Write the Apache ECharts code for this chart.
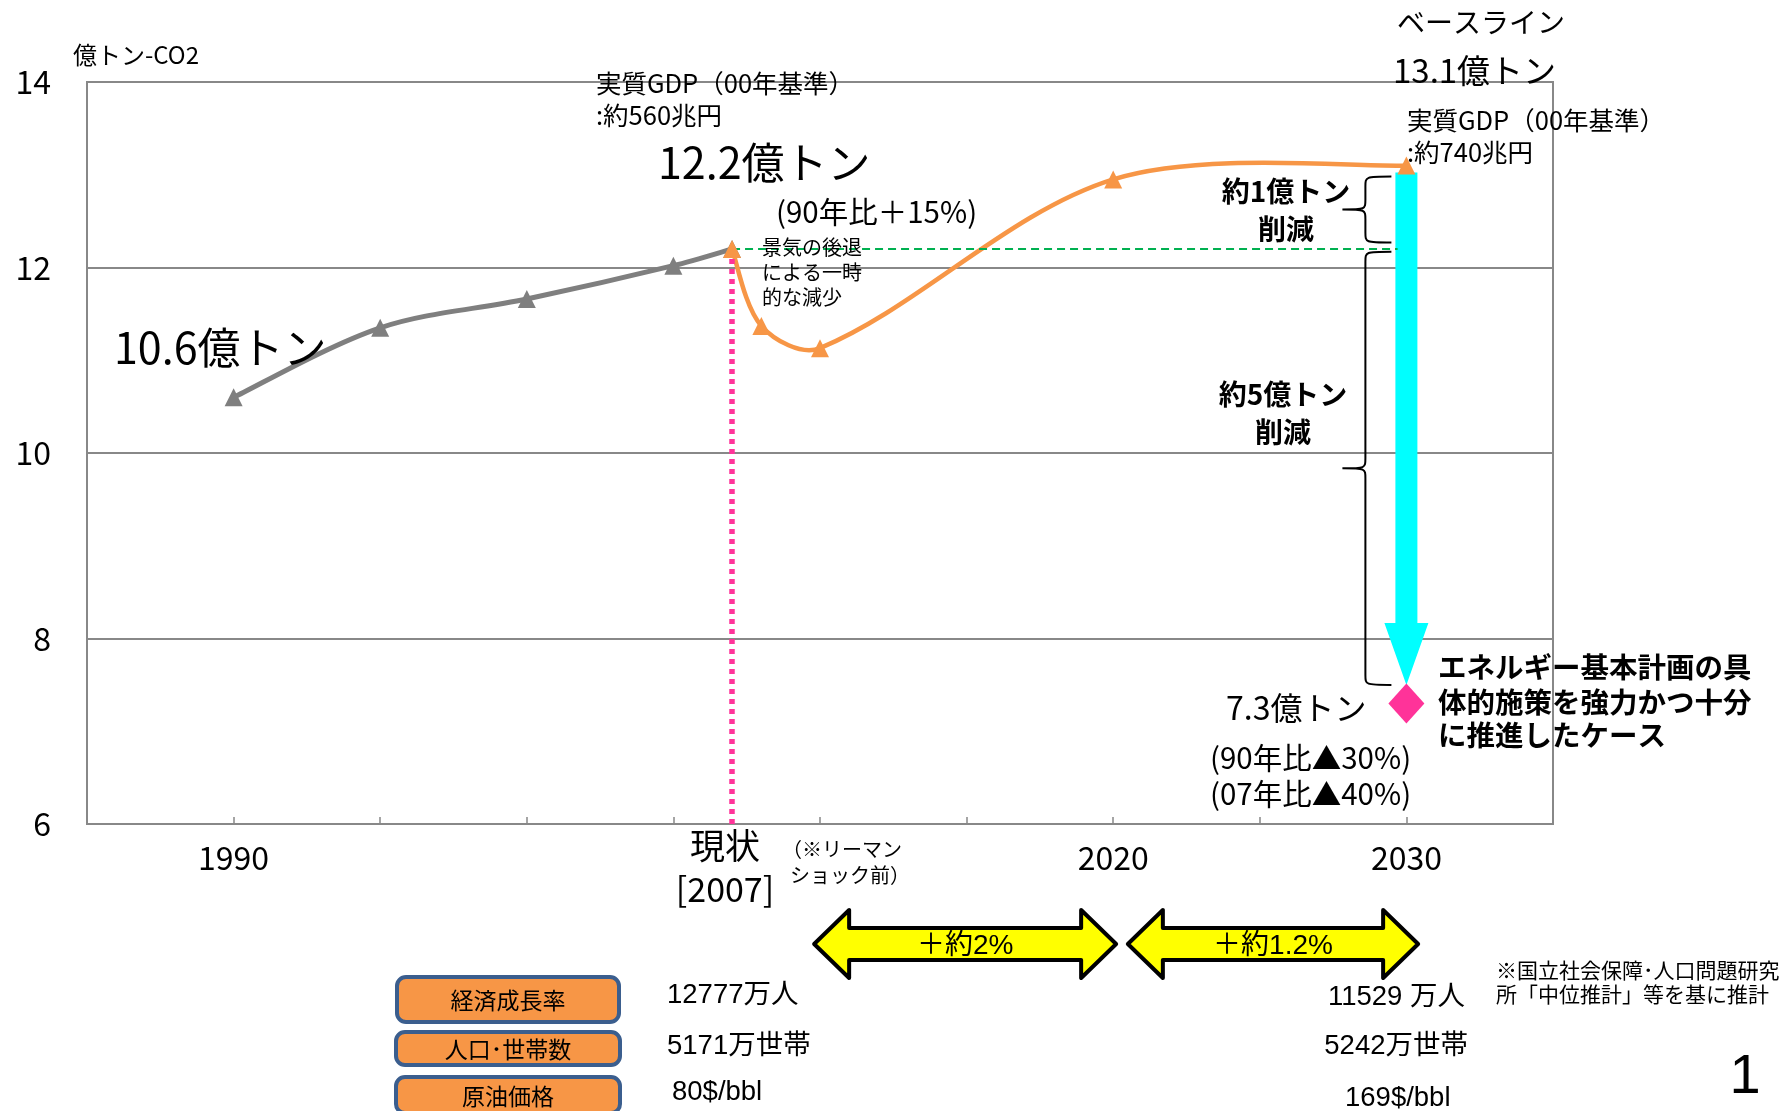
<!DOCTYPE html>
<html>
<head>
<meta charset="utf-8">
<script src="https://cdn.jsdelivr.net/npm/echarts@6/dist/echarts.min.js"></script>
<style>
  html, body { margin: 0; padding: 0; background: #fff; }
  #chart { width: 1787px; height: 1111px; }
</style>
</head>
<body>
<div id="chart"></div>
<script>
// CO2 emissions (億トン-CO2): actual record up to 2007
const histYears = [1990, 1995, 2000, 2005, 2007];
const histEmissions = [10.6, 11.35, 11.66, 12.02, 12.2];

// Baseline projection from 2007 to 2030
const baseYears = [2007, 2008, 2010, 2020, 2030];
const baseEmissions = [12.2, 11.37, 11.13, 12.95, 13.1];

// Case with the energy basic plan fully implemented
const targetYear = 2030;
const targetEmission = 7.3;
const reductionArrow = [13.1, 7.5];          // baseline -> arrow tip
const reductionBraces = [[12.98, 12.27], [12.17, 7.5]];
const reductionLabels = ['約1億トン', '約5億トン'];

// Economic growth periods shown under the axis
const growthSpans = [[2009.8, 2020.1], [2020.5, 2030.4]];
const growthLabels = ['＋約2%', '＋約1.2%'];

// Assumption table
const indicatorNames = ['経済成長率', '人口･世帯数', '原油価格'];
const values2007 = ['12777万人', '5171万世帯', '80$/bbl'];
const values2030 = ['11529 万人', '5242万世帯', '169$/bbl'];

// Axis ticks
const xLabelYears = [1990, 2020, 2030];
const yMin = 6, yMax = 14, yStep = 2;
const xMin = 1985, xMax = 2035, xStep = 5;

const FONT = "'Noto Sans CJK JP', sans-serif";
const LATIN = "'Liberation Sans', 'Noto Sans CJK JP', sans-serif";

function txt(text, x, y, size, opt) {
  opt = opt || {};
  const align = opt.align || 'left';
  return {
    type: 'text',
    x: x, y: y,
    z: 50,
    silent: true,
    style: {
      text: text,
      font: (opt.weight || 'normal') + ' ' + size + 'px ' + (opt.family || FONT),
      fill: opt.color || '#000',
      textAlign: align, align: align,
      textVerticalAlign: 'middle', verticalAlign: 'middle',
      lineHeight: opt.lineHeight || Math.round(size * 1.25)
    }
  };
}

const fmt = v => v.toFixed(1);

// Cardinal-style smoothing: handles along (next - prev), split by segment length
function smoothPath(pts, s) {
  const n = pts.length;
  const hin = [], hout = [];
  for (let i = 0; i < n; i++) {
    if (i === 0 || i === n - 1) {
      const a = pts[i === 0 ? 0 : n - 2], b = pts[i === 0 ? 1 : n - 1];
      const h = [(b[0] - a[0]) * s * 0.5, (b[1] - a[1]) * s * 0.5];
      hin.push(h); hout.push(h);
      continue;
    }
    const p = pts[i - 1], c = pts[i], q = pts[i + 1];
    const vx = q[0] - p[0], vy = q[1] - p[1];
    const d0 = Math.hypot(c[0] - p[0], c[1] - p[1]);
    const d1 = Math.hypot(q[0] - c[0], q[1] - c[1]);
    const k0 = s * d0 / (d0 + d1), k1 = s * d1 / (d0 + d1);
    hin.push([vx * k0, vy * k0]);
    hout.push([vx * k1, vy * k1]);
  }
  let d = 'M ' + pts[0][0] + ' ' + pts[0][1];
  for (let i = 0; i < n - 1; i++) {
    const a = pts[i], b = pts[i + 1];
    d += ' C ' + (a[0] + hout[i][0]) + ' ' + (a[1] + hout[i][1]) + ' ' +
      (b[0] - hin[i + 1][0]) + ' ' + (b[1] - hin[i + 1][1]) + ' ' + b[0] + ' ' + b[1];
  }
  return d;
}

function curveSeries(xs, ys, color, width, z) {
  return {
    type: 'custom', z: z, silent: true,
    encode: { x: 0, y: 1 },
    data: xs.map((x, i) => [x, ys[i]]),
    renderItem: (params, api) => {
      if (params.dataIndex !== 0) return null;
      const pts = xs.map((x, i) => api.coord([x, ys[i]]));
      return {
        type: 'path',
        shape: { pathData: smoothPath(pts, 1 / 3) },
        style: { fill: 'none', stroke: color, lineWidth: width, lineJoin: 'round', lineCap: 'round' }
      };
    }
  };
}

function markerSeries(name, xs, ys, color, z, extra) {
  return Object.assign({
    name: name,
    type: 'scatter', z: z,
    data: xs.map((x, i) => [x, ys[i]]),
    symbol: 'triangle', symbolSize: 18,
    itemStyle: { color: color, opacity: 1 }
  }, extra || {});
}

const graphics = [
  txt('億トン-CO2', 73, 55, 24),
  txt('実質GDP（00年基準）', 596, 83, 25.5),
  txt(':約560兆円', 596, 115, 25.5),
  txt(fmt(histEmissions[histEmissions.length - 1]) + '億トン', 658, 163, 43),
  txt('(90年比＋15%)', 776, 212, 29.5),
  txt('景気の後退', 762, 247, 20),
  txt('による一時', 762, 272, 20),
  txt('的な減少', 762, 297, 20),
  txt(fmt(histEmissions[0]) + '億トン', 114, 348, 43),
  txt('ベースライン', 1397, 22, 28),
  txt(fmt(baseEmissions[baseEmissions.length - 1]) + '億トン', 1393, 70, 33),
  txt('実質GDP（00年基準）', 1407, 120, 25.5),
  txt(':約740兆円', 1407, 152, 25.5),
  txt(reductionLabels[0], 1286, 191, 28, { align: 'center', weight: 'bold' }),
  txt('削減', 1286, 229, 28, { align: 'center', weight: 'bold' }),
  txt(reductionLabels[1], 1283, 394, 28, { align: 'center', weight: 'bold' }),
  txt('削減', 1283, 432, 28, { align: 'center', weight: 'bold' }),
  txt(fmt(targetEmission) + '億トン', 1226, 708, 32),
  txt('(90年比▲30%)', 1210, 758, 29.5),
  txt('(07年比▲40%)', 1210, 794, 29.5),
  txt('エネルギー基本計画の具', 1438, 667, 28.5, { weight: 'bold' }),
  txt('体的施策を強力かつ十分', 1438, 702, 28.5, { weight: 'bold' }),
  txt('に推進したケース', 1438, 735, 28.5, { weight: 'bold' }),
  txt('現状', 725, 846, 35, { align: 'center' }),
  txt('[2007]', 725, 889, 34, { align: 'center' }),
  txt('（※リーマン', 782, 849, 20),
  txt('ショック前）', 790, 875, 20),
  txt('※国立社会保障･人口問題研究', 1496, 970, 21),
  txt('所「中位推計」等を基に推計', 1496, 994, 21),
  txt('1', 1745, 1078, 56, { align: 'center', family: LATIN })
];

// Indicator boxes and their values
const boxRects = [
  { x: 397, y: 977, w: 222, h: 45 },
  { x: 396, y: 1032, w: 224, h: 33 },
  { x: 396, y: 1077, w: 224, h: 36 }
];
const row2007 = [{ x: 667, y: 995 }, { x: 667, y: 1046 }, { x: 672, y: 1092 }];
const row2030 = [
  { x: 1465, y: 997, align: 'right' },
  { x: 1468, y: 1046, align: 'right' },
  { x: 1345, y: 1098, align: 'left' }
];
indicatorNames.forEach((name, i) => {
  const b = boxRects[i];
  graphics.push({
    type: 'rect', z: 40, silent: true,
    shape: { x: b.x, y: b.y, width: b.w, height: b.h, r: 9 },
    style: { fill: '#f79646', stroke: '#3b5e8e', lineWidth: 4 }
  });
  graphics.push(txt(name, b.x + b.w / 2, b.y + b.h / 2 + 1, 23, { align: 'center' }));
  graphics.push(txt(values2007[i], row2007[i].x, row2007[i].y, 27.5, { family: LATIN }));
  graphics.push(txt(values2030[i], row2030[i].x, row2030[i].y, 27.5, { family: LATIN, align: row2030[i].align }));
});

const chart = echarts.init(document.getElementById('chart'));

chart.setOption({
  animation: false,
  backgroundColor: '#fff',
  grid: {
    left: 87, top: 82, right: 234, bottom: 287,
    show: true, borderColor: '#888', borderWidth: 2, backgroundColor: 'transparent'
  },
  xAxis: {
    type: 'value', min: xMin, max: xMax, interval: xStep,
    axisLine: { lineStyle: { color: '#888', width: 2 } },
    axisTick: { show: true, inside: true, length: 7, lineStyle: { color: '#888', width: 1.5 } },
    splitLine: { show: false },
    axisLabel: {
      margin: 18, fontSize: 32, color: '#000', fontFamily: FONT,
      formatter: v => xLabelYears.includes(v) ? String(v) : ''
    }
  },
  yAxis: {
    type: 'value', min: yMin, max: yMax, interval: yStep,
    axisLine: { show: true, lineStyle: { color: '#888', width: 2 } },
    axisTick: { show: false },
    splitLine: { lineStyle: { color: '#888', width: 2 } },
    axisLabel: { margin: 36, fontSize: 32, color: '#000', fontFamily: FONT }
  },
  graphic: { elements: graphics },
  series: [
    {
      // cyan reduction arrow at 2030
      type: 'custom', z: 1, silent: true,
      encode: { x: 0, y: [1, 2] },
      data: [[targetYear, reductionArrow[0], reductionArrow[1]]],
      renderItem: (params, api) => {
        const top = api.coord([api.value(0), api.value(1)]);
        const tip = api.coord([api.value(0), api.value(2)]);
        const x = top[0], y0 = top[1] + 7, yt = tip[1];
        const headLen = 62, headHalf = 22, shaftHalf = 11;
        return {
          type: 'polygon',
          shape: { points: [
            [x - shaftHalf, y0], [x + shaftHalf, y0], [x + shaftHalf, yt - headLen],
            [x + headHalf, yt - headLen], [x, yt], [x - headHalf, yt - headLen],
            [x - shaftHalf, yt - headLen]
          ] },
          style: { fill: '#00ffff' }
        };
      }
    },
    {
      // curly braces marking the two reduction steps
      type: 'custom', z: 2, silent: true,
      encode: { x: 0, y: [1, 2] },
      data: reductionBraces.map(r => [targetYear, r[0], r[1]]),
      renderItem: (params, api) => {
        const a = api.coord([api.value(0), api.value(1)]);
        const b = api.coord([api.value(0), api.value(2)]);
        const xc = a[0];
        const xe = xc - 15, xv = xc - 41, xt = xc - 64;
        const t = a[1], bt = b[1], m = (t + bt) / 2, r = 10;
        const d = [
          'M', xe, t, 'C', xv, t, xv, t, xv, t + r,
          'L', xv, m - r, 'C', xv, m, xv, m, xt, m,
          'C', xv, m, xv, m, xv, m + r,
          'L', xv, bt - r, 'C', xv, bt, xv, bt, xe, bt
        ].join(' ');
        return {
          type: 'path',
          shape: { pathData: d },
          style: { fill: 'none', stroke: '#000', lineWidth: 2 }
        };
      }
    },
    {
      // growth-rate double arrows under the axis
      type: 'custom', z: 6, silent: true,
      encode: { x: [0, 1] },
      data: growthSpans.map((s, i) => [s[0], s[1], i]),
      renderItem: (params, api) => {
        const l = api.coord([api.value(0), yMin]);
        const r = api.coord([api.value(1), yMin]);
        const cy = l[1] + 120, x0 = l[0], x1 = r[0];
        const head = 35, hh = 34, sh = 16;
        return {
          type: 'group',
          children: [
            {
              type: 'polygon',
              shape: { points: [
                [x0, cy], [x0 + head, cy - hh], [x0 + head, cy - sh], [x1 - head, cy - sh],
                [x1 - head, cy - hh], [x1, cy], [x1 - head, cy + hh], [x1 - head, cy + sh],
                [x0 + head, cy + sh], [x0 + head, cy + hh]
              ] },
              style: { fill: '#ffff00', stroke: '#000', lineWidth: 4, lineJoin: 'round' }
            },
            {
              type: 'text',
              style: {
                text: growthLabels[api.value(2)],
                x: (x0 + x1) / 2, y: cy + 2,
                font: 'normal 28px ' + LATIN, fill: '#000',
                textAlign: 'center', align: 'center',
                textVerticalAlign: 'middle', verticalAlign: 'middle'
              }
            }
          ]
        };
      }
    },
    curveSeries(histYears, histEmissions, '#7f7f7f', 5, 3),
    curveSeries(baseYears, baseEmissions, '#f79646', 4.5, 4),
    markerSeries('実績', histYears, histEmissions, '#7f7f7f', 5),
    markerSeries('ベースライン', baseYears, baseEmissions, '#f79646', 6, {
      markLine: {
        silent: true, symbol: ['none', 'none'],
        label: { show: false },
        data: [
          [
            { coord: [baseYears[0], yMin], lineStyle: { color: '#ff3399', width: 5.5, type: [5, 5], opacity: 1 } },
            { coord: [baseYears[0], baseEmissions[0]] }
          ],
          [
            { coord: [baseYears[0], baseEmissions[0]], lineStyle: { color: '#00b050', width: 2, type: [8, 5], opacity: 1 } },
            { coord: [2029.7, baseEmissions[0]] }
          ]
        ]
      }
    }),
    {
      name: '対策ケース',
      type: 'scatter', z: 7,
      data: [[targetYear, targetEmission]],
      symbol: 'diamond', symbolSize: [36, 40],
      itemStyle: { color: '#ff3399', opacity: 1 }
    }
  ]
});
</script>
</body>
</html>
